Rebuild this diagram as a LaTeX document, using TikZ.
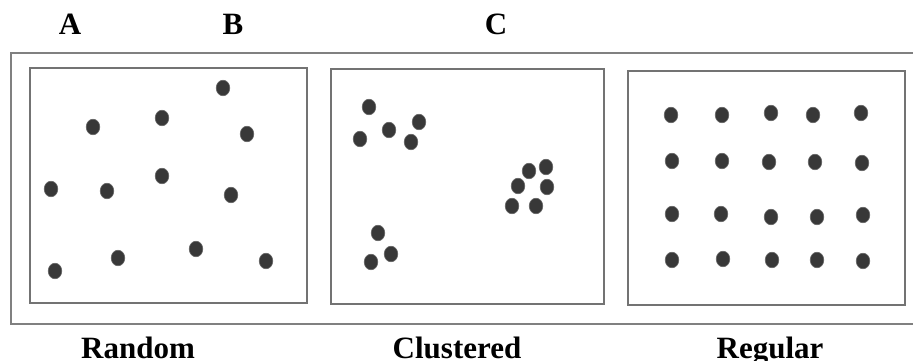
\documentclass[tikz,border=0pt]{standalone}
\usepackage{fontspec}
\setmainfont{Liberation Serif}
\begin{document}
\begin{tikzpicture}[x=1pt,y=-1pt,
  frame/.style={draw=black!50,line width=1.4pt},
  panel/.style={draw=black!55,line width=1.4pt},
  dot/.style={fill=black!78,draw=black!60,line width=0.6pt},
  lbl/.style={font=\bfseries\fontsize{31}{31}\selectfont,text=black,inner sep=0pt,anchor=base}]
\useasboundingbox (0,0) rectangle (913,361);
\fill[white] (0,0) rectangle (913,361);
% outer frame (right side runs off the picture)
\draw[frame] (925,53) -- (11,53) -- (11,324) -- (925,324);
% panels
\draw[panel] (30,68) rectangle (307,303);
\draw[panel] (331,69) rectangle (604,304);
\draw[panel] (628,71) rectangle (905,305);
% labels
\node[lbl] (la) at (70,35) {A};
\node[lbl] (lb) at (233,35) {B};
\node[lbl] (lc) at (496,35) {C};
\node[lbl] (lr) at (138,358) {Random};
\node[lbl] (lcl) at (457,358) {Clustered};
\node[lbl] (lrg) at (770,358) {Regular};
% random
\foreach \x/\y in {223/88,93/127,162/118,247/134,51/189,107/191,162/176,231/195,55/271,118/258,196/249,266/261}
  \path[dot] (\x,\y) ellipse (6.8 and 7.8);
% clustered
\foreach \x/\y in {369/107,360/139,389/130,419/122,411/142,546/167,529/171,518/186,547/187,512/206,536/206,378/233,371/262,391/254}
  \path[dot] (\x,\y) ellipse (6.8 and 7.8);
% regular
\foreach \x/\y in {671/115,722/115,771/113,813/115,861/113,
                   672/161,722/161,769/162,815/162,862/163,
                   672/214,721/214,771/217,817/217,863/215,
                   672/260,723/259,772/260,817/260,863/261}
  \path[dot] (\x,\y) ellipse (6.8 and 7.8);
\end{tikzpicture}
\end{document}
